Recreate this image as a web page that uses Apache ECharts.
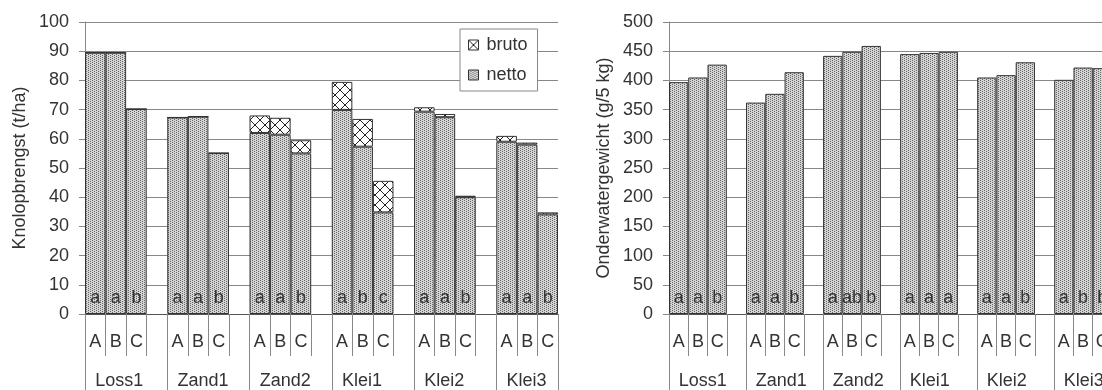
<!DOCTYPE html>
<html>
<head>
<meta charset="utf-8">
<script src="https://cdn.jsdelivr.net/npm/echarts@6/dist/echarts.min.js"></script>
<style>
html,body{margin:0;padding:0;background:#fff;}
#chart{width:1102px;height:390px;}
</style>
</head>
<body>
<div id="chart"></div>
<script>
const groups = ['Loss1', 'Zand1', 'Zand2', 'Klei1', 'Klei2', 'Klei3'];
const treatments = ['A', 'B', 'C'];
const nettoYield = [[89.5, 89.5, 70.2], [67.3, 67.6, 55.1], [62.0, 61.4, 55.0], [69.9, 57.3, 34.8], [69.3, 67.4, 40.0], [59.0, 58.0, 34.1]];
const brutoYield = [[89.5, 89.5, 70.2], [67.3, 67.6, 55.1], [68.0, 67.2, 59.5], [79.5, 66.8, 45.6], [70.8, 68.5, 40.5], [61.0, 58.7, 34.8]];
const yieldLetters = [['a', 'a', 'b'], ['a', 'a', 'b'], ['a', 'a', 'b'], ['a', 'b', 'c'], ['a', 'a', 'b'], ['a', 'a', 'b']];
const underwaterWeight = [[397, 405, 427], [362, 377, 414], [442, 449, 459], [445, 447, 449], [405, 409, 431], [401, 422, 421]];
const weightLetters = [['a', 'a', 'b'], ['a', 'a', 'b'], ['a', 'ab', 'b'], ['a', 'a', 'a'], ['a', 'a', 'b'], ['a', 'b', 'b']];
const yieldTicks = {min: 0, max: 100, interval: 10};
const weightTicks = {min: 0, max: 500, interval: 50};

// build slot arrays: 3 bars per group plus an empty gap slot between groups
const slotLabels = [], slotGroup = [], netSlots = [], diffSlots = [], yLetterSlots = [], wSlots = [], wLetterSlots = [];
groups.forEach((g, gi) => {
  treatments.forEach((t, ti) => {
    slotLabels.push(t);
    slotGroup.push(ti === 0 ? g : '');
    netSlots.push(nettoYield[gi][ti]);
    diffSlots.push(+(brutoYield[gi][ti] - nettoYield[gi][ti]).toFixed(1));
    yLetterSlots.push(yieldLetters[gi][ti]);
    wSlots.push(underwaterWeight[gi][ti]);
    wLetterSlots.push(weightLetters[gi][ti]);
  });
  if (gi < groups.length - 1) {
    slotLabels.push(''); slotGroup.push(''); netSlots.push('-'); diffSlots.push('-');
    yLetterSlots.push(''); wSlots.push('-'); wLetterSlots.push('');
  }
});

function dotPattern() {
  const c = document.createElement('canvas');
  c.width = 4; c.height = 4;
  const ctx = c.getContext('2d');
  ctx.fillStyle = '#d4d4d4'; ctx.fillRect(0, 0, 4, 4);
  ctx.fillStyle = '#666666';
  [[0, 0], [2, 1], [0, 2], [2, 3]].forEach(p => ctx.fillRect(p[0], p[1], 1, 1));
  return {image: c, repeat: 'repeat'};
}
function crossPattern() {
  const c = document.createElement('canvas');
  c.width = 10; c.height = 10;
  const ctx = c.getContext('2d');
  ctx.fillStyle = '#ffffff'; ctx.fillRect(0, 0, 10, 10);
  ctx.strokeStyle = '#222'; ctx.lineWidth = 1;
  ctx.beginPath(); ctx.moveTo(0, 0); ctx.lineTo(10, 10); ctx.moveTo(10, 0); ctx.lineTo(0, 10); ctx.stroke();
  return {image: c, repeat: 'repeat'};
}
const dots = dotPattern();
const cross = crossPattern();
const FONT = 'Liberation Sans';
const TXT = '#333';

function yAxisCfg(gridIndex, ticks, name) {
  return {
    type: 'value', gridIndex, min: ticks.min, max: ticks.max, interval: ticks.interval,
    name, nameLocation: 'middle', nameGap: 56, nameRotate: 90,
    nameTextStyle: {fontFamily: FONT, fontSize: 18, color: TXT},
    axisLine: {show: true, lineStyle: {color: '#888', width: 1}},
    axisTick: {show: true, length: 6, lineStyle: {color: '#888'}},
    axisLabel: {fontFamily: FONT, fontSize: 18, color: TXT, margin: 16},
    splitLine: {show: true, lineStyle: {color: '#888', width: 1}}
  };
}
function xAxesCfg(gridIndex) {
  return [{
    type: 'category', gridIndex, data: slotLabels, position: 'bottom',
    axisLine: {show: true, onZero: false, lineStyle: {color: '#555', width: 1}},
    axisTick: {show: true, length: 42, interval: (i) => i % 4 !== 0, lineStyle: {color: '#888'}},
    axisLabel: {interval: 0, fontFamily: FONT, fontSize: 18, color: TXT, margin: 19}
  }, {
    type: 'category', gridIndex, data: slotGroup, position: 'bottom',
    axisLine: {show: false},
    axisTick: {show: true, length: 80, interval: (i) => i % 4 === 0, lineStyle: {color: '#888'}},
    axisLabel: {interval: 0, fontFamily: FONT, fontSize: 18, color: TXT, margin: 58, align: 'left'}
  }];
}
const barBorder = {borderColor: '#333', borderWidth: 1};
const letterLabel = (arr) => ({
  show: true, position: 'insideBottom', distance: 7,
  fontFamily: FONT, fontSize: 18, color: '#333',
  formatter: (p) => arr[p.dataIndex]
});

const chart = echarts.init(document.getElementById('chart'), null, {renderer: 'canvas'});
chart.setOption({
  animation: false,
  backgroundColor: '#fff',
  grid: [
    {left: 85, top: 22, width: 473, height: 292, outerBoundsMode: 'none', containLabel: false},
    {left: 669, top: 22, width: 443, height: 292, outerBoundsMode: 'none', containLabel: false}
  ],
  legend: {
    data: ['bruto', 'netto'], orient: 'vertical', left: 460, top: 29,
    backgroundColor: '#fff', borderColor: '#888', borderWidth: 1,
    padding: [7, 10, 7, 8], itemGap: 12, itemWidth: 10, itemHeight: 10, icon: 'rect',
    itemStyle: {borderColor: '#333', borderWidth: 1},
    textStyle: {fontFamily: FONT, fontSize: 18, color: TXT, padding: [0, 0, 0, 3]}
  },
  xAxis: [...xAxesCfg(0), ...xAxesCfg(1)],
  yAxis: [yAxisCfg(0, yieldTicks, 'Knolopbrengst (t/ha)'), yAxisCfg(1, weightTicks, 'Onderwatergewicht (g/5 kg)')],
  series: [
    {name: 'netto', type: 'bar', xAxisIndex: 0, yAxisIndex: 0, stack: 'y', data: netSlots,
      barWidth: '100%', barCategoryGap: 0, itemStyle: Object.assign({color: dots}, barBorder),
      label: letterLabel(yLetterSlots)},
    {name: 'bruto', type: 'bar', xAxisIndex: 0, yAxisIndex: 0, stack: 'y', data: diffSlots,
      barWidth: '100%', barCategoryGap: 0, itemStyle: Object.assign({color: cross}, barBorder)},
    {name: 'weight', type: 'bar', xAxisIndex: 2, yAxisIndex: 1, data: wSlots,
      barWidth: '100%', barCategoryGap: 0, itemStyle: Object.assign({color: dots}, barBorder),
      label: letterLabel(wLetterSlots)}
  ]
});
</script>
</body>
</html>
